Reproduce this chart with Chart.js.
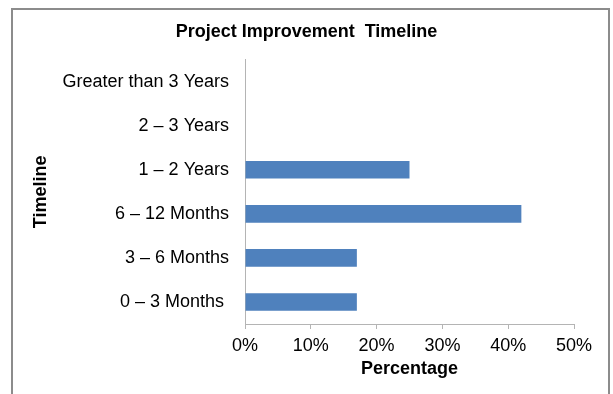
<!DOCTYPE html>
<html>
<head>
<meta charset="utf-8">
<title>Project Improvement Timeline</title>
<script src="https://cdn.jsdelivr.net/npm/chart.js@4.4.1/dist/chart.umd.min.js"></script>
<style>
  html, body { margin: 0; padding: 0; background: #fff; }
  canvas { display: block; }
</style>
</head>
<body>
<canvas id="timelineChart" width="613" height="394"></canvas>
<script>
// Categories, top to bottom
const categories = [
  "Greater than 3 Years",
  "2 – 3 Years",
  "1 – 2 Years",
  "6 – 12 Months",
  "3 – 6 Months",
  "0 – 3 Months "
];
// Share of projects per timeline (%)
const percentages = [0, 0, 25, 42, 17, 17];
const xTickValues = [0, 10, 20, 30, 40, 50];

const FONT = "'Liberation Sans', Arial, sans-serif";
const AXIS_COLOR = "#b4b4b4";

// grey frame around the whole chart
const framePlugin = {
  id: "frame",
  beforeDraw(chart) {
    const ctx = chart.ctx;
    ctx.save();
    ctx.fillStyle = "#fff";
    ctx.fillRect(0, 0, chart.width, chart.height);
    ctx.strokeStyle = "#8c8c8c";
    ctx.lineWidth = 2;
    ctx.strokeRect(12, 9, 597, 400);
    ctx.restore();
  }
};

new Chart(document.getElementById("timelineChart"), {
  type: "bar",
  data: {
    labels: categories,
    datasets: [{
      data: percentages,
      backgroundColor: "#4f81bd",
      borderWidth: 0,
      barPercentage: 0.4,
      categoryPercentage: 1.0
    }]
  },
  plugins: [framePlugin],
  options: {
    indexAxis: "y",
    responsive: false,
    animation: false,
    layout: { padding: 0 },
    plugins: {
      legend: { display: false },
      tooltip: { enabled: false },
      title: {
        display: true,
        text: "Project Improvement  Timeline",
        color: "#000",
        font: { family: FONT, size: 18, weight: "bold" },
        padding: { top: 21.5, bottom: 16.5 }
      }
    },
    scales: {
      x: {
        min: 0,
        max: 50,
        afterBuildTicks: scale => {
          scale.ticks = xTickValues.map(v => ({ value: v }));
        },
        afterFit: scale => { scale.height = 70; },
        ticks: {
          color: "#000",
          font: { family: FONT, size: 18 },
          padding: 6,
          maxRotation: 0,
          callback: v => v + "%"
        },
        grid: {
          drawOnChartArea: false,
          drawTicks: true,
          tickLength: 5,
          color: AXIS_COLOR
        },
        border: { display: true, color: AXIS_COLOR, width: 1 },
        title: {
          display: true,
          text: "Percentage",
          color: "#000",
          font: { family: FONT, size: 18, weight: "bold" },
          padding: { top: 0, bottom: 14 }
        }
      },
      y: {
        afterFit: scale => { scale.width = 245; },
        ticks: {
          color: "#000",
          font: { family: FONT, size: 18 },
          padding: 16
        },
        grid: { drawOnChartArea: false, drawTicks: false },
        border: { display: true, color: AXIS_COLOR, width: 1 },
        title: {
          display: true,
          text: "Timeline",
          color: "#000",
          font: { family: FONT, size: 18, weight: "bold" },
          padding: { top: 30, bottom: 0 }
        }
      },
      // empty right-hand gutter so the title stays centred on the frame
      gutter: {
        type: "linear",
        position: "right",
        afterFit: scale => { scale.width = 39; },
        ticks: { display: false },
        grid: { display: false },
        border: { display: false }
      }
    }
  }
});
</script>
</body>
</html>
